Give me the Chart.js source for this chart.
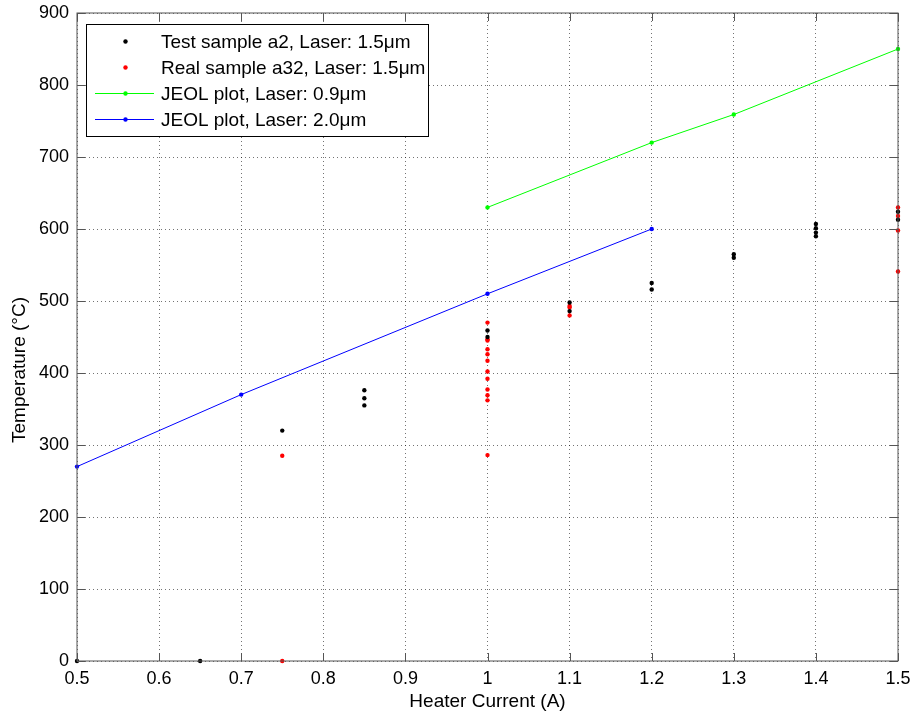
<!DOCTYPE html>
<html>
<head>
<meta charset="utf-8">
<script src="https://cdn.jsdelivr.net/npm/chart.js@4.4.0/dist/chart.umd.min.js"></script>
<style>
html, body { margin: 0; padding: 0; background: #fff; }
</style>
</head>
<body>
<canvas id="chart" width="912" height="713"></canvas>
<script>
var FONT = "'Liberation Sans', Arial, sans-serif";

// test sample a2, laser 1.5um
var testCurrent = [0.5, 0.65, 0.75, 0.85, 0.85, 0.85, 1.0, 1.0, 1.1, 1.1, 1.2, 1.2, 1.3, 1.3, 1.4, 1.4, 1.4, 1.4, 1.5, 1.5];
var testTemp    = [0, 0, 320, 376, 365, 355, 459, 450, 498, 486, 525, 516, 565, 560, 607, 601, 595, 590, 624, 613];

// real sample a32, laser 1.5um
var realCurrent = [0.75, 0.75, 1.0, 1.0, 1.0, 1.0, 1.0, 1.0, 1.0, 1.0, 1.0, 1.0, 1.0, 1.0, 1.1, 1.1, 1.1, 1.5, 1.5, 1.5, 1.5];
var realTemp    = [285, 0, 470, 447, 445, 433, 426, 417, 402, 392, 377, 369, 362, 286, 493, 491, 480, 630, 618, 598, 541];

// JEOL plots
var jeol09Current = [1.0, 1.2, 1.3, 1.5];
var jeol09Temp    = [630, 720, 759, 850];
var jeol20Current = [0.5, 0.7, 1.0, 1.2];
var jeol20Temp    = [270, 370, 510, 600];

var xTickValues = [0.5, 0.6, 0.7, 0.8, 0.9, 1.0, 1.1, 1.2, 1.3, 1.4, 1.5];
var yTickValues = [0, 100, 200, 300, 400, 500, 600, 700, 800, 900];

function toPoints(xs, ys){
	var pts = [];
	for(var i=0; i<xs.length; ++i){
		pts.push({x: xs[i], y: ys[i]});
	}
	return pts;
}

function makeSet(label, color, xs, ys, line){
	return {
		label: label,
		data: toPoints(xs, ys),
		showLine: line,
		borderColor: color,
		backgroundColor: color,
		pointBackgroundColor: color,
		pointBorderWidth: 0,
		pointRadius: 2.2,
		pointHoverRadius: 2.2,
		borderWidth: 1,
		clip: false
	};
}

// draws the matlab style box, inward ticks, legend and y label
var matlabPlugin = {
	id: 'matlabPlugin',
	afterDraw: function(chart){
		var ctx = chart.ctx;
		var a = chart.chartArea;
		var xs = chart.scales.x, ys = chart.scales.y;
		ctx.save();
		ctx.strokeStyle = '#555';
		ctx.lineWidth = 1;
		ctx.beginPath();
		xs.ticks.forEach(function(t){
			var px = Math.round(xs.getPixelForValue(t.value)) + 0.5;
			ctx.moveTo(px, a.bottom); ctx.lineTo(px, a.bottom - 8);
			ctx.moveTo(px, a.top); ctx.lineTo(px, a.top + 8);
		});
		ys.ticks.forEach(function(t){
			var py = Math.round(ys.getPixelForValue(t.value)) + 0.5;
			ctx.moveTo(a.left, py); ctx.lineTo(a.left + 8, py);
			ctx.moveTo(a.right, py); ctx.lineTo(a.right - 8, py);
		});
		ctx.stroke();
		ctx.strokeRect(Math.round(a.left), Math.round(a.top), Math.round(a.right - a.left), Math.round(a.bottom - a.top));

		// y axis title
		ctx.save();
		ctx.translate(20, 370);
		ctx.rotate(-Math.PI/2);
		ctx.fillStyle = '#000';
		ctx.font = '19px ' + FONT;
		ctx.textAlign = 'center';
		ctx.textBaseline = 'middle';
		ctx.fillText('Temperature (°C)', 0, 0);
		ctx.restore();

		// legend box
		ctx.fillStyle = '#fff';
		ctx.fillRect(86, 24, 342, 112);
		ctx.strokeStyle = '#000';
		ctx.strokeRect(86.5, 24.5, 342, 112);
		chart.data.datasets.forEach(function(ds, i){
			var y = 41.5 + i*26;
			if(ds.showLine){
				ctx.strokeStyle = ds.borderColor;
				ctx.beginPath();
				ctx.moveTo(95, y); ctx.lineTo(154, y);
				ctx.stroke();
			}
			ctx.fillStyle = ds.pointBackgroundColor;
			ctx.beginPath();
			ctx.arc(125.5, y, 2.2, 0, Math.PI*2);
			ctx.fill();
			ctx.fillStyle = '#000';
			ctx.font = '19px ' + FONT;
			ctx.textAlign = 'left';
			ctx.textBaseline = 'middle';
			ctx.fillText(ds.label, 161, y + 1);
		});
		ctx.restore();
	}
};

var chart = new Chart(document.getElementById('chart'), {
	type: 'scatter',
	data: {
		datasets: [
			makeSet('Test sample a2, Laser: 1.5μm', '#000000', testCurrent, testTemp, false),
			makeSet('Real sample a32, Laser: 1.5μm', '#ff0000', realCurrent, realTemp, false),
			makeSet('JEOL plot, Laser: 0.9μm', '#00ff00', jeol09Current, jeol09Temp, true),
			makeSet('JEOL plot, Laser: 2.0μm', '#0000ff', jeol20Current, jeol20Temp, true)
		]
	},
	options: {
		responsive: false,
		animation: false,
		layout: { padding: { left: 0, right: 14, top: 13, bottom: 0 } },
		plugins: {
			legend: { display: false },
			tooltip: { enabled: false }
		},
		scales: {
			x: {
				type: 'linear',
				min: 0.5,
				max: 1.5,
				afterBuildTicks: function(s){ s.ticks = xTickValues.map(function(v){ return {value: v}; }); },
				afterFit: function(s){ s.height = 52; s.paddingLeft = 0; s.paddingRight = 0; },
				ticks: {
					color: '#000',
					font: { family: FONT, size: 18 },
					padding: 7,
					maxRotation: 0,
					callback: function(v){ return String(+Number(v).toFixed(1)); }
				},
				grid: { color: 'rgba(0,0,0,0.55)', drawTicks: false },
				border: { display: false, dash: [1, 3] },
				title: {
					display: true,
					text: 'Heater Current (A)',
					color: '#000',
					font: { family: FONT, size: 19 },
					padding: 0
				}
			},
			y: {
				min: 0,
				max: 900,
				afterBuildTicks: function(s){ s.ticks = yTickValues.map(function(v){ return {value: v}; }); },
				afterFit: function(s){ s.width = 77; s.paddingTop = 0; s.paddingBottom = 0; },
				ticks: {
					color: '#000',
					font: { family: FONT, size: 18 },
					padding: 8
				},
				grid: { color: 'rgba(0,0,0,0.55)', drawTicks: false },
				border: { display: false, dash: [1, 3] }
			}
		}
	},
	plugins: [matlabPlugin]
});
</script>
</body>
</html>
